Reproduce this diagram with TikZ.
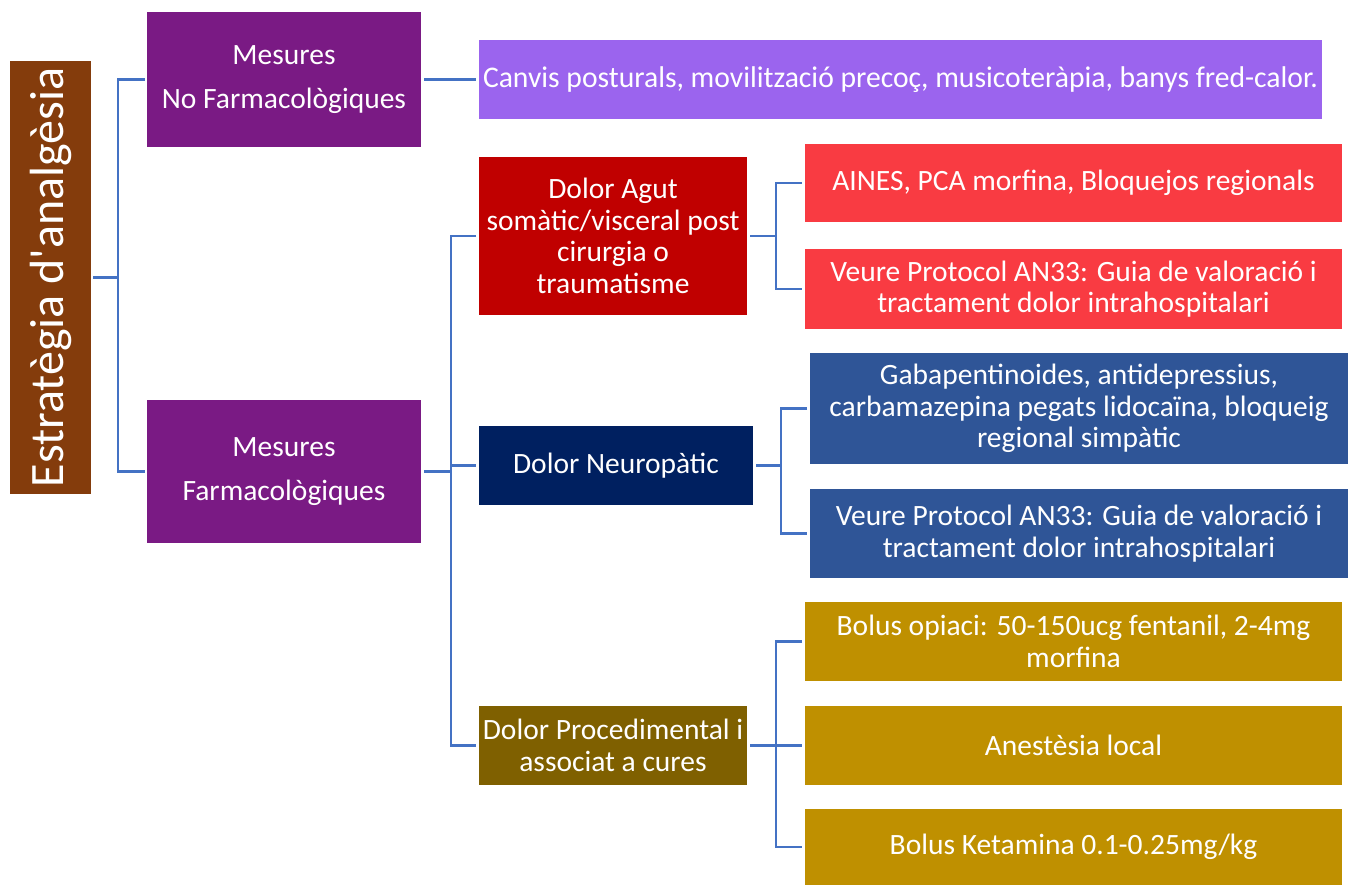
\documentclass[tikz,border=0pt]{standalone}
\usepackage{fontspec}
\setmainfont{Carlito}
\newfontfamily\rootfont{Carlito}[Ligatures=TeXOff]
\usepackage{graphicx}
\definecolor{rootbrown}{HTML}{843C0C}
\definecolor{purp}{HTML}{7A1A84}
\definecolor{lav}{HTML}{9B64EE}
\definecolor{darkred}{HTML}{C00000}
\definecolor{navy}{HTML}{002060}
\definecolor{olive}{HTML}{7F6000}
\definecolor{brightred}{HTML}{F93B42}
\definecolor{midblue}{HTML}{2F5597}
\definecolor{gold}{HTML}{BF9000}
\definecolor{link}{HTML}{4472C4}
\begin{document}
\begin{tikzpicture}[x=1pt,y=-1pt,
  box/.style={rectangle, inner sep=0pt, outer sep=0pt, text=white, align=center,
    font=\fontsize{29.5}{31.7}\selectfont},
  conn/.style={draw=link, line width=2.8pt, line join=miter}]
\useasboundingbox (0,0) rectangle (1349,885);

% root
\node[box, fill=rootbrown, minimum width=81pt, minimum height=433pt] (root) at (50.5,277.5) {};
\node[text=white, inner sep=0pt, rotate=90, font=\rootfont\fontsize{48}{52}\selectfont] (roottxt) at (50.5,277.5) {Estratègia d'analgèsia};

% level 1
\node[box, fill=purp, minimum width=274pt, minimum height=135pt] (mnf) at (284,79.5) {Mesures\\[13pt]No Farmacològiques};
\node[box, fill=purp, minimum width=274pt, minimum height=143pt] (mf) at (284,471.5) {Mesures\\[13pt]Farmacològiques};

% level 2
\node[box, fill=lav, minimum width=843pt, minimum height=79pt] (canvis) at (900.5,79.5)
  {\resizebox{835pt}{\height}{\fontsize{30}{32}\selectfont Canvis posturals, movilització precoç, musicoteràpia, banys fred-calor.}};
\node[box, fill=darkred, minimum width=268pt, minimum height=158pt] (agut) at (613,236)
  {Dolor Agut\\somàtic/visceral post\\cirurgia o\\traumatisme};
\node[box, fill=navy, minimum width=274pt, minimum height=79pt] (neuro) at (616,465.5) {Dolor Neuropàtic};
\node[box, fill=olive, minimum width=268pt, minimum height=79pt] (proc) at (613,745.5)
  {Dolor Procedimental i\\associat a cures};

% level 3
\node[box, fill=brightred, minimum width=537pt, minimum height=78pt] (aines) at (1073.5,183)
  {AINES, PCA morfina, Bloquejos regionals};
\node[box, fill=brightred, minimum width=537pt, minimum height=80pt] (veure1) at (1073.5,289)
  {Veure Protocol AN33: Guia de valoració i\\tractament dolor intrahospitalari};
\node[box, fill=midblue, minimum width=538pt, minimum height=111pt] (gaba) at (1079,408.5)
  {Gabapentinoides, antidepressius,\\carbamazepina pegats lidocaïna, bloqueig\\regional simpàtic};
\node[box, fill=midblue, minimum width=538pt, minimum height=89pt] (veure2) at (1079,533.5)
  {Veure Protocol AN33: Guia de valoració i\\tractament dolor intrahospitalari};
\node[box, fill=gold, minimum width=537pt, minimum height=79pt] (bolus) at (1073.5,641.5)
  {Bolus opiaci: 50-150ucg fentanil, 2-4mg\\morfina};
\node[box, fill=gold, minimum width=537pt, minimum height=79pt] (anest) at (1073.5,745.5)
  {Anestèsia local};
\node[box, fill=gold, minimum width=537pt, minimum height=76pt] (keta) at (1073.5,847)
  {Bolus Ketamina 0.1-0.25mg/kg};

% bus points
\coordinate (b0) at (118,277.5);
\coordinate (b1) at (451,471.5);
\coordinate (b2) at (776,236);
\coordinate (b3) at (781,465.5);
\coordinate (b4) at (776,745.5);

% connectors
\draw[conn] ([xshift=2pt]root.east) -- (b0);
\draw[conn] ([xshift=-2pt]mnf.west) -| (b0) |- ([xshift=-2pt]mf.west);
\draw[conn] ([xshift=3pt]mnf.east) -- ([xshift=-3pt]canvis.west);

\draw[conn] ([xshift=3pt]mf.east) -- (b1);
\draw[conn] ([xshift=-3pt]agut.west) -| (b1) |- ([xshift=-3pt]proc.west);
\draw[conn] (b1) |- ([xshift=-3pt]neuro.west);

\draw[conn] ([xshift=3pt]agut.east) -- (b2);
\draw[conn] ([xshift=-3pt]aines.west) -| (b2) |- ([xshift=-3pt]veure1.west);

\draw[conn] ([xshift=3pt]neuro.east) -- (b3);
\draw[conn] ([xshift=-3pt]gaba.west) -| (b3) |- ([xshift=-3pt]veure2.west);

\draw[conn] ([xshift=3pt]proc.east) -- (b4);
\draw[conn] ([xshift=-3pt]bolus.west) -| (b4) |- ([xshift=-3pt]keta.west);
\draw[conn] (b4) -- ([xshift=-3pt]anest.west);
\end{tikzpicture}
\end{document}
